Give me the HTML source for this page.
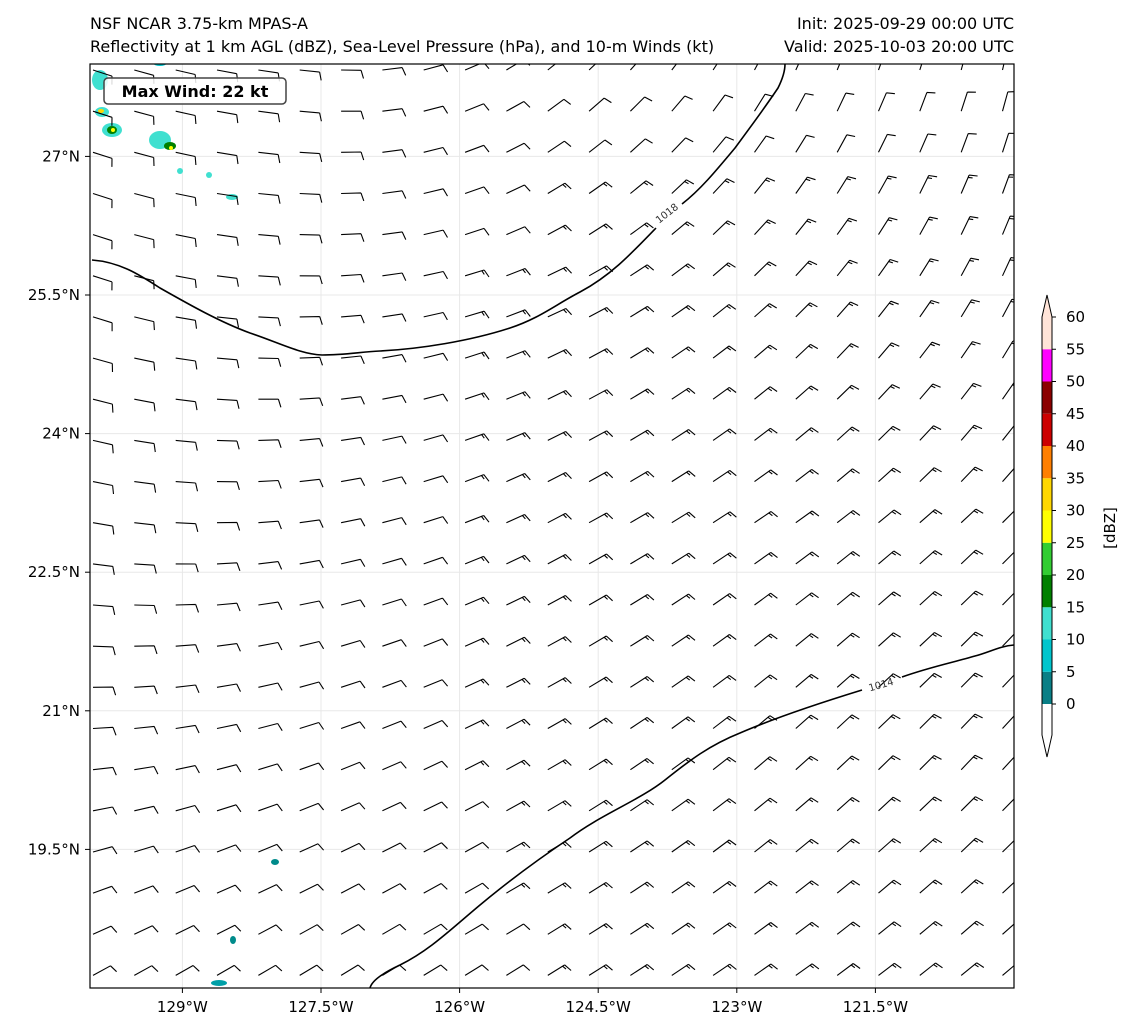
<!DOCTYPE html>
<html><head><meta charset="utf-8"><style>
body{margin:0;background:#fff;width:1133px;height:1032px;overflow:hidden;font-family:"DejaVu Sans","Liberation Sans",sans-serif;}
svg text{font-family:"DejaVu Sans","Liberation Sans",sans-serif;}
</style></head><body>
<svg id="chart" width="1133" height="1032" xmlns="http://www.w3.org/2000/svg">
<text x="90" y="29" font-size="16">NSF NCAR 3.75-km MPAS-A</text>
<text x="90" y="52" font-size="16">Reflectivity at 1 km AGL (dBZ), Sea-Level Pressure (hPa), and 10-m Winds (kt)</text>
<text x="1014" y="29" font-size="16" text-anchor="end">Init: 2025-09-29 00:00 UTC</text>
<text x="1014" y="52" font-size="16" text-anchor="end">Valid: 2025-10-03 20:00 UTC</text>
<defs><clipPath id="clip"><rect x="90" y="64" width="924" height="924"/></clipPath></defs>
<g id="grid"></g>
<g id="refl" clip-path="url(#clip)">
<ellipse cx="100" cy="80" rx="8" ry="10" fill="#40e0d0"/>
<ellipse cx="102" cy="112" rx="7" ry="5" fill="#40e0d0"/>
<ellipse cx="112" cy="130" rx="10" ry="7" fill="#40e0d0"/>
<ellipse cx="112" cy="130" rx="5" ry="4" fill="#008000"/>
<ellipse cx="113" cy="130" rx="2" ry="2" fill="#ffff00"/>
<ellipse cx="101" cy="111" rx="3" ry="2" fill="#ffd700"/>
<ellipse cx="160" cy="140" rx="11" ry="9" fill="#40e0d0"/>
<ellipse cx="170" cy="146" rx="6" ry="4" fill="#008000"/>
<ellipse cx="171" cy="148" rx="2" ry="2" fill="#ffff00"/>
<ellipse cx="180" cy="171" rx="3" ry="3" fill="#40e0d0"/>
<ellipse cx="209" cy="175" rx="3" ry="3" fill="#40e0d0"/>
<ellipse cx="232" cy="197" rx="6" ry="3" fill="#40e0d0"/>
<ellipse cx="160" cy="64" rx="6" ry="2" fill="#00c5cd"/>
<ellipse cx="275" cy="862" rx="4" ry="3" fill="#008b8b"/>
<ellipse cx="233" cy="940" rx="3" ry="4" fill="#008b8b"/>
<ellipse cx="219" cy="983" rx="8" ry="3" fill="#00a0a8"/>
</g>
<g id="barbs" clip-path="url(#clip)" stroke="#000" stroke-width="1.1" fill="none"></g>
<g fill="none" stroke="#000" stroke-width="1.6" clip-path="url(#clip)">
<path d="M92,260 C120,262 140,275 160,288 C190,305 220,322 250,333 C280,343 300,354 322,355 C345,355 360,352 380,351 C420,349 470,341 510,328 C540,318 555,305 580,292 C610,276 630,255 656,228 M682,204 C700,190 715,172 735,148 C752,125 770,100 778,88 C782,80 785,72 785,64"/>
<path d="M370,988 C372,980 385,972 400,965 C430,950 450,930 480,905 C510,880 540,858 570,838 C600,815 640,800 665,780 C690,760 710,745 740,733 C770,720 810,706 862,690 M902,677 C930,667 955,662 975,656 C990,652 1000,646 1014,645"/>
</g>
<text x="669" y="216" font-size="10" text-anchor="middle" transform="rotate(-38 669 216)" fill="#333">1018</text>
<text x="882" y="688" font-size="10" text-anchor="middle" transform="rotate(-16 882 688)" fill="#333">1014</text>
<rect x="90" y="64" width="924" height="924" fill="none" stroke="#000" stroke-width="1.2"/>
<g>
<rect x="104" y="78" width="182" height="26" rx="4" fill="#fff" fill-opacity="0.85" stroke="#444" stroke-width="1.5"/>
<text x="195" y="97" font-size="16" font-weight="bold" text-anchor="middle">Max Wind: 22 kt</text>
</g>
<g id="axes" font-size="15"></g>
<g id="cbar"></g>
<text x="1115" y="528" font-size="15" text-anchor="middle" transform="rotate(-90 1115 528)">[dBZ]</text>
</svg>
<script>
const lonMin=-130, lonMax=-120, latMin=18, latMax=28;
const x0=90, x1=1014, y0=64, y1=988;
const X=lon=>x0+(lon-lonMin)/(lonMax-lonMin)*(x1-x0);
const Y=lat=>y1-(lat-latMin)/(latMax-latMin)*(y1-y0);
const lonTicks=[-129,-127.5,-126,-124.5,-123,-121.5];
const lonLabels=["129°W","127.5°W","126°W","124.5°W","123°W","121.5°W"];
const latTicks=[27,25.5,24,22.5,21,19.5];
const latLabels=["27°N","25.5°N","24°N","22.5°N","21°N","19.5°N"];
// coarse wind field (direction from, deg; speed kt)
const fieldLats=[28,25.5,23,20.5,18];
const fieldLons=[-130,-127.5,-125,-122.5,-120];
const windDir=[
 [108,95,50,25,12],
 [108,88,65,45,25],
 [100,80,62,55,45],
 [85,70,60,48,42],
 [60,58,58,55,50]];
const windSpd=[
 [10,10,12,12,12],
 [10,12,13,13,13],
 [10,12,13,14,15],
 [10,12,13,15,15],
 [10,10,13,14,15]];
const cbLevels=[0,5,10,15,20,25,30,35,40,45,50,55,60];
const cbColors=["#0a7f86","#00c5cd","#40e0d0","#008000","#32cd32","#ffff00","#ffd700","#ff7f00","#cc0000","#8b0000","#ff00ff","#ffe4d8"];
const NS="http://www.w3.org/2000/svg";
function mk(tag,attrs,parent){const e=document.createElementNS(NS,tag);for(const k in attrs)e.setAttribute(k,attrs[k]);parent.appendChild(e);return e;}
const grid=document.getElementById('grid'), axes=document.getElementById('axes');
lonTicks.forEach((t,i)=>{
 const l=mk('line',{x1:X(t),x2:X(t),y1:y0,y2:y1,stroke:'#e8e8e8','stroke-width':1},grid);
 
 
 const tk=mk('line',{x1:X(t),x2:X(t),y1:y1,y2:y1+5,stroke:'#000'},axes);
 
 
 const tx=mk('text',{x:X(t),y:y1+24,'text-anchor':'middle'},axes);tx.textContent=lonLabels[i];
 
 
});
latTicks.forEach((t,i)=>{
 const l=mk('line',{x1:x0,x2:x1,y1:Y(t),y2:Y(t),stroke:'#e8e8e8','stroke-width':1},grid);
 
 
 const tk=mk('line',{x1:x0-5,x2:x0,y1:Y(t),y2:Y(t),stroke:'#000'},axes);
 
 
 const tx=mk('text',{x:x0-10,y:Y(t)+5,'text-anchor':'end'},axes);tx.textContent=latLabels[i];
 
 
});
function sample(arr,lat,lon){
 const fy=(fieldLats[0]-lat)/(fieldLats[0]-fieldLats[4])*4, fx=(lon-fieldLons[0])/(fieldLons[4]-fieldLons[0])*4;
 const i=Math.min(3,Math.max(0,Math.floor(fy))), j=Math.min(3,Math.max(0,Math.floor(fx)));
 const ty=Math.min(1,Math.max(0,fy-i)), tx=Math.min(1,Math.max(0,fx-j));
 return (arr[i][j]*(1-tx)+arr[i][j+1]*tx)*(1-ty)+(arr[i+1][j]*(1-tx)+arr[i+1][j+1]*tx)*ty;
}
const barbs=document.getElementById('barbs');
const n=23, step=(x1-x0)/22.35;
for(let r=0;r<n;r++)for(let c=0;c<n;c++){
 const px=93+c*step, py=70+r*step*0.9955;
 const lon=lonMin+(px-x0)/(x1-x0)*10, lat=latMax-(py-y0)/(y1-y0)*10;
 const d=sample(windDir,lat,lon)*Math.PI/180, s=Math.round(sample(windSpd,lat,lon)/5)*5;
 const ux=Math.sin(d), uy=-Math.cos(d);
 const L=20, tx=px+ux*L, ty=py+uy*L;
 const a=Math.PI/2-0.3;
 const bx=ux*Math.cos(a)-uy*Math.sin(a), by=ux*Math.sin(a)+uy*Math.cos(a);
 let dstr=`M${px.toFixed(1)},${py.toFixed(1)}L${tx.toFixed(1)},${ty.toFixed(1)}`;
 let full=Math.floor(s/10), half=(s%10)>=5?1:0, pos=0;
 for(let k=0;k<full;k++){const sx=tx-ux*pos, sy=ty-uy*pos;dstr+=`M${sx.toFixed(1)},${sy.toFixed(1)}l${(bx*8.5).toFixed(1)},${(by*8.5).toFixed(1)}`;pos+=2.5;}
 if(half){const sx=tx-ux*pos, sy=ty-uy*pos;dstr+=`M${sx.toFixed(1)},${sy.toFixed(1)}l${(bx*4.5).toFixed(1)},${(by*4.5).toFixed(1)}`;}
 const p=mk('path',{d:dstr},barbs);
 
 
}
const cb=document.getElementById('cbar');
const cbx=1042, cbw=10, cy60=317, cy0=704;
const CY=v=>cy0-(v-0)/60*(cy0-cy60);
mk('polygon',{points:`${cbx},${CY(55)} ${cbx+cbw},${CY(55)} ${cbx+cbw},${CY(60)} ${cbx+cbw/2},295 ${cbx},${CY(60)}`,fill:'#ffe4d8'},cb);
mk('polygon',{points:`${cbx},${CY(0)} ${cbx+cbw},${CY(0)} ${cbx+cbw},735 ${cbx+cbw/2},757 ${cbx},735`,fill:'#fff'},cb);
for(let i=0;i<cbColors.length;i++){
 const r=mk('rect',{x:cbx,y:CY(cbLevels[i+1]),width:cbw,height:CY(cbLevels[i])-CY(cbLevels[i+1]),fill:cbColors[i]},cb);
 
 
}
mk('polygon',{points:`${cbx},${CY(60)} ${cbx+cbw/2},295 ${cbx+cbw},${CY(60)} ${cbx+cbw},735 ${cbx+cbw/2},757 ${cbx},735`,fill:'none',stroke:'#000','stroke-width':1},cb);
cbLevels.forEach(v=>{
 mk('line',{x1:cbx+cbw,x2:cbx+cbw+4,y1:CY(v),y2:CY(v),stroke:'#000'},cb);
 const t=mk('text',{x:cbx+cbw+14,y:CY(v)+5,'font-size':15},cb);t.textContent=v;
 
 
});
</script>
</body></html>
